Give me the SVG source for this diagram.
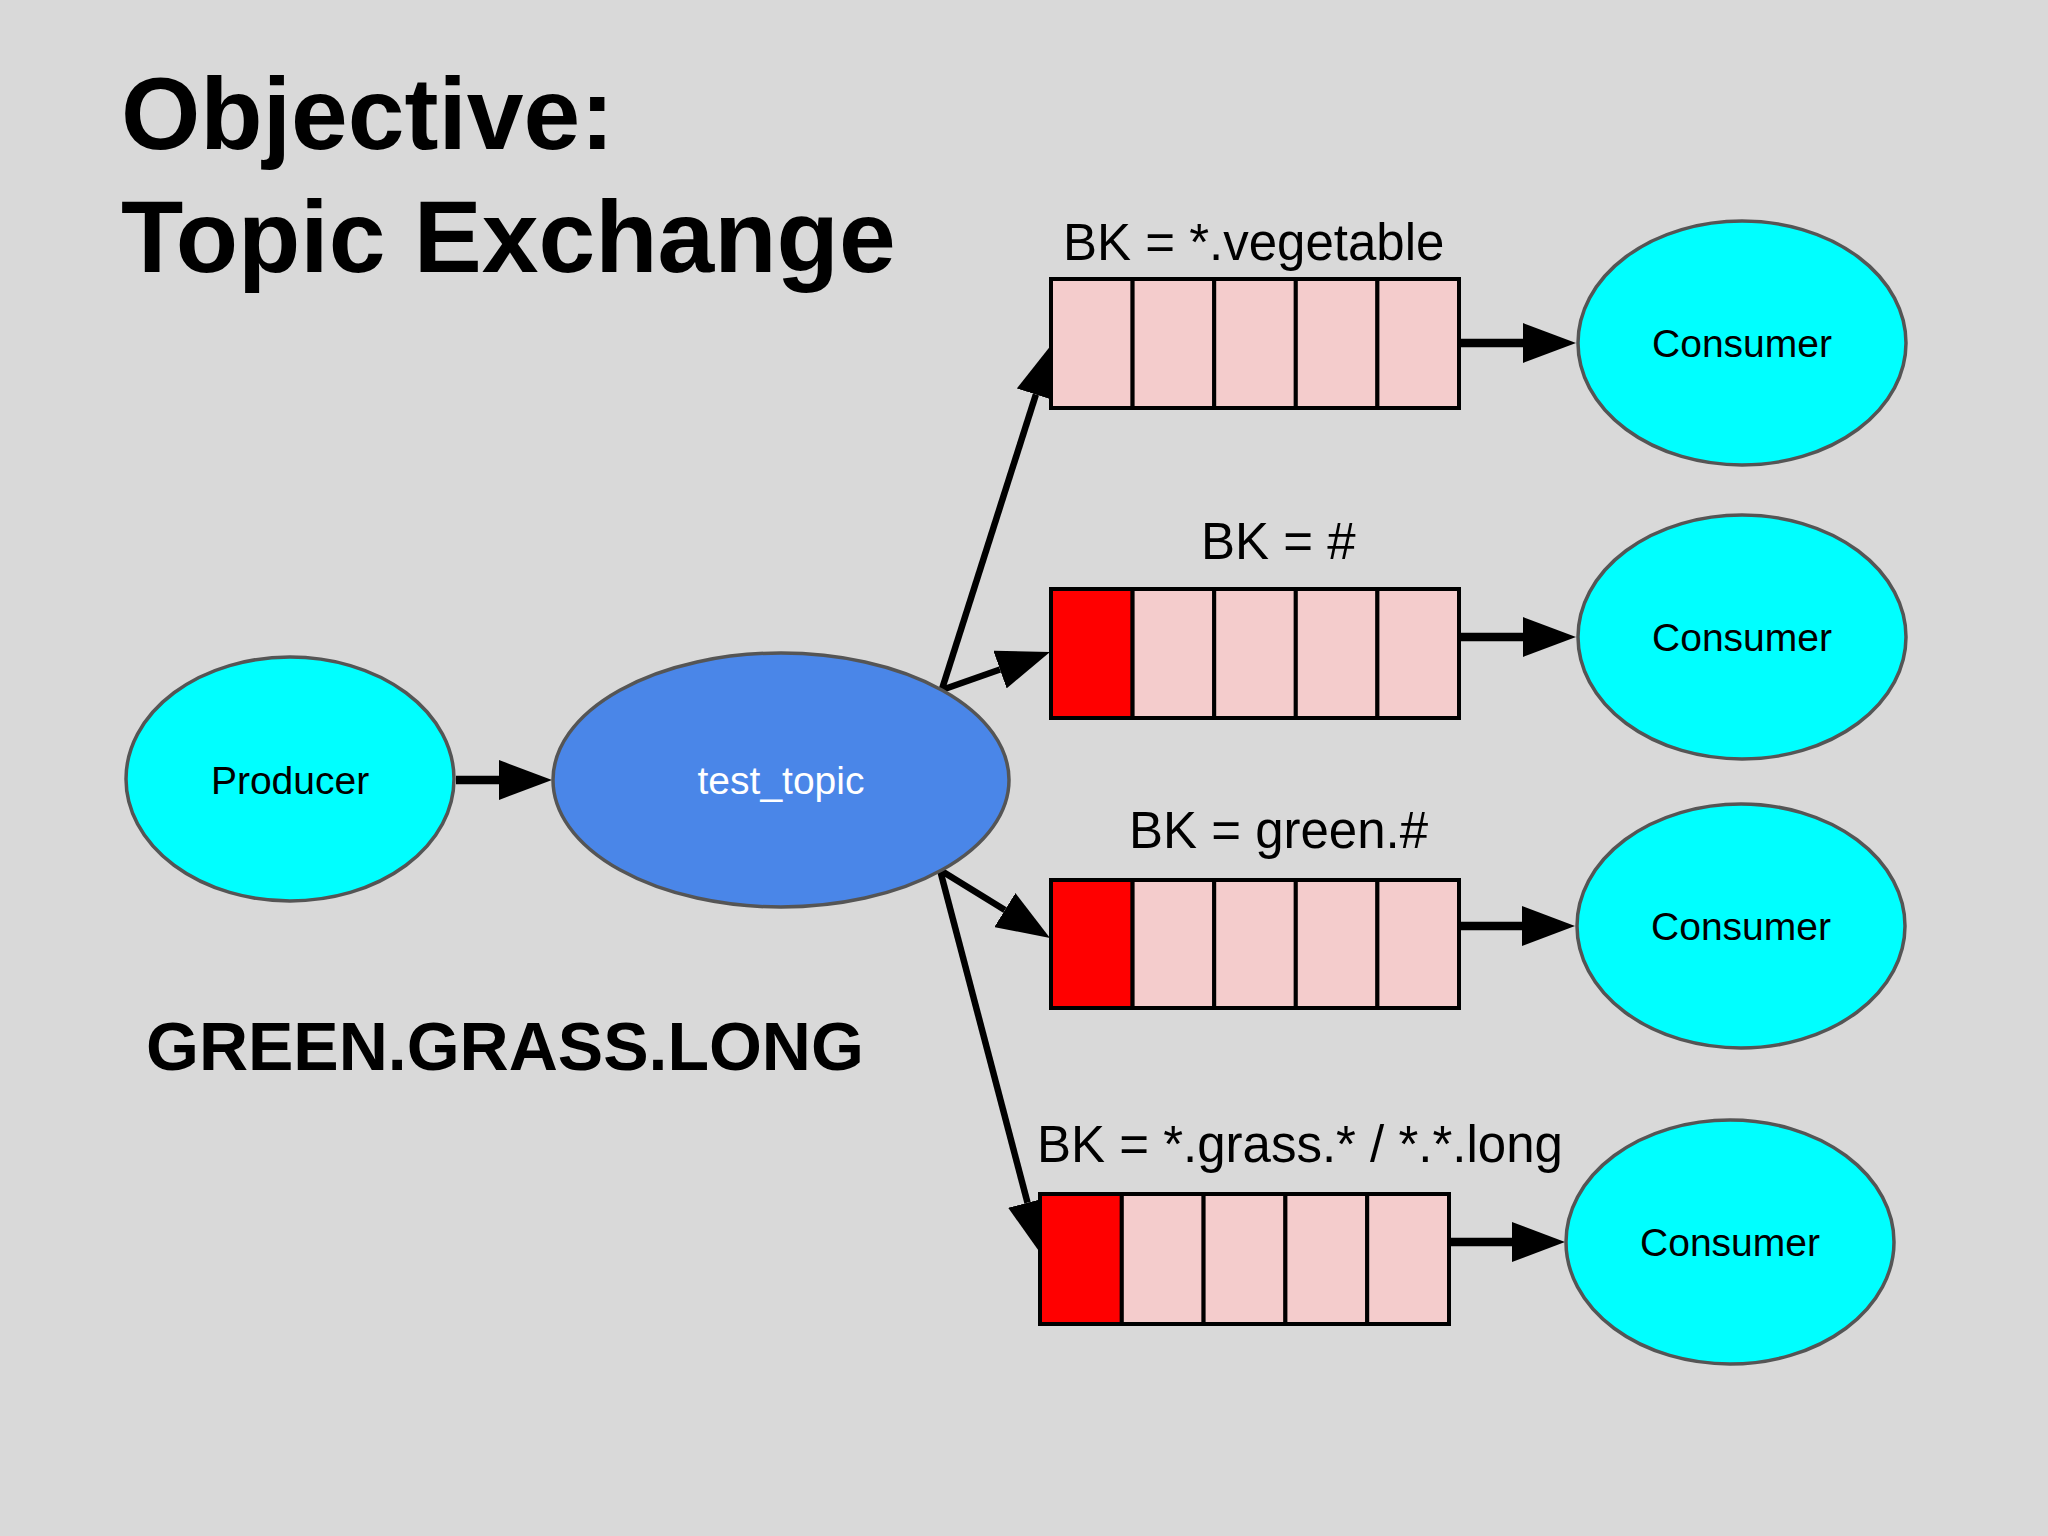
<svg xmlns="http://www.w3.org/2000/svg" width="2048" height="1536" viewBox="0 0 2048 1536">
<style>
.bg{fill:#d9d9d9}
.title{font-family:"Liberation Sans",Arial,sans-serif;font-weight:bold;font-size:102px;fill:#000}
.key{font-family:"Liberation Sans",Arial,sans-serif;font-weight:bold;font-size:68px;fill:#000}
.bk{font-family:"Liberation Sans",Arial,sans-serif;font-size:51px;fill:#000}
.lbl{font-family:"Liberation Sans",Arial,sans-serif;font-size:39px;fill:#000;text-anchor:middle}
.lblw{font-family:"Liberation Sans",Arial,sans-serif;font-size:39px;fill:#fff;text-anchor:middle}
.client{fill:#00ffff;stroke:#555;stroke-width:3.5}
.exch{fill:#4a86e8;stroke:#555;stroke-width:3.5}
.cell{fill:#f4cccc;stroke:#000;stroke-width:4}
.msg{fill:#ff0000;stroke:#000;stroke-width:4}
.thin{fill:none;stroke:#000;stroke-width:6.5}
.thick{fill:none;stroke:#000;stroke-width:8.5}
</style>
<defs>
<marker id="ah" markerUnits="userSpaceOnUse" markerWidth="54" markerHeight="40" viewBox="0 0 54 40" refX="0" refY="20" orient="auto">
<path d="M0,0 L53,20 L0,40 Z" fill="#000"/>
</marker>
</defs>
<rect class="bg" x="0" y="0" width="2048" height="1536"/>
<g id="title">
<text class="title" x="121" y="149">Objective:</text>
<text class="title" x="121" y="272">Topic Exchange</text>
</g>
<g id="routing-key">
<text class="key" x="146" y="1070">GREEN.GRASS.LONG</text>
</g>
<g id="connectors">
<path class="thick" d="M456,780 L499,780" marker-end="url(#ah)"/>
<path class="thin" d="M941.7,690 L1035.9,394.5" marker-end="url(#ah)"/>
<path class="thin" d="M941.7,690 L1000,669.5" marker-end="url(#ah)"/>
<path class="thin" d="M940,870 L1004.9,910.1" marker-end="url(#ah)"/>
<path class="thin" d="M940,870 L1027.5,1202.7" marker-end="url(#ah)"/>
<path class="thick" d="M1459,343 L1523,343" marker-end="url(#ah)"/>
<path class="thick" d="M1459,637 L1523,637" marker-end="url(#ah)"/>
<path class="thick" d="M1459,926 L1522,926" marker-end="url(#ah)"/>
<path class="thick" d="M1448,1242 L1512,1242" marker-end="url(#ah)"/>
</g>
<g id="producer">
<ellipse class="client" cx="290" cy="779" rx="164" ry="122"/>
<text class="lbl" x="290" y="794">Producer</text>
</g>
<g id="exchange">
<ellipse class="exch" cx="781" cy="780" rx="228" ry="127"/>
<text class="lblw" x="781" y="794">test_topic</text>
</g>
<g id="queue1">
<text class="bk" x="1063" y="260">BK = *.vegetable</text>
<rect class="cell" x="1051" y="279" width="81.6" height="129"/>
<rect class="cell" x="1132.6" y="279" width="81.6" height="129"/>
<rect class="cell" x="1214.2" y="279" width="81.6" height="129"/>
<rect class="cell" x="1295.8" y="279" width="81.6" height="129"/>
<rect class="cell" x="1377.4" y="279" width="81.6" height="129"/>
</g>
<g id="queue2">
<text class="bk" x="1201" y="559">BK = #</text>
<rect class="msg" x="1051" y="589" width="81.6" height="129"/>
<rect class="cell" x="1132.6" y="589" width="81.6" height="129"/>
<rect class="cell" x="1214.2" y="589" width="81.6" height="129"/>
<rect class="cell" x="1295.8" y="589" width="81.6" height="129"/>
<rect class="cell" x="1377.4" y="589" width="81.6" height="129"/>
</g>
<g id="queue3">
<text class="bk" x="1129" y="848">BK = green.#</text>
<rect class="msg" x="1051" y="880" width="81.6" height="128"/>
<rect class="cell" x="1132.6" y="880" width="81.6" height="128"/>
<rect class="cell" x="1214.2" y="880" width="81.6" height="128"/>
<rect class="cell" x="1295.8" y="880" width="81.6" height="128"/>
<rect class="cell" x="1377.4" y="880" width="81.6" height="128"/>
</g>
<g id="queue4">
<text class="bk" x="1037" y="1162">BK = *.grass.* / *.*.long</text>
<rect class="msg" x="1040" y="1194" width="81.8" height="130"/>
<rect class="cell" x="1121.8" y="1194" width="81.8" height="130"/>
<rect class="cell" x="1203.6" y="1194" width="81.8" height="130"/>
<rect class="cell" x="1285.4" y="1194" width="81.8" height="130"/>
<rect class="cell" x="1367.2" y="1194" width="81.8" height="130"/>
</g>
<g id="consumer1">
<ellipse class="client" cx="1742" cy="343" rx="164" ry="122"/>
<text class="lbl" x="1742" y="357">Consumer</text>
</g>
<g id="consumer2">
<ellipse class="client" cx="1742" cy="637" rx="164" ry="122"/>
<text class="lbl" x="1742" y="651">Consumer</text>
</g>
<g id="consumer3">
<ellipse class="client" cx="1741" cy="926" rx="164" ry="122"/>
<text class="lbl" x="1741" y="940">Consumer</text>
</g>
<g id="consumer4">
<ellipse class="client" cx="1730" cy="1242" rx="164" ry="122"/>
<text class="lbl" x="1730" y="1256">Consumer</text>
</g>
</svg>
